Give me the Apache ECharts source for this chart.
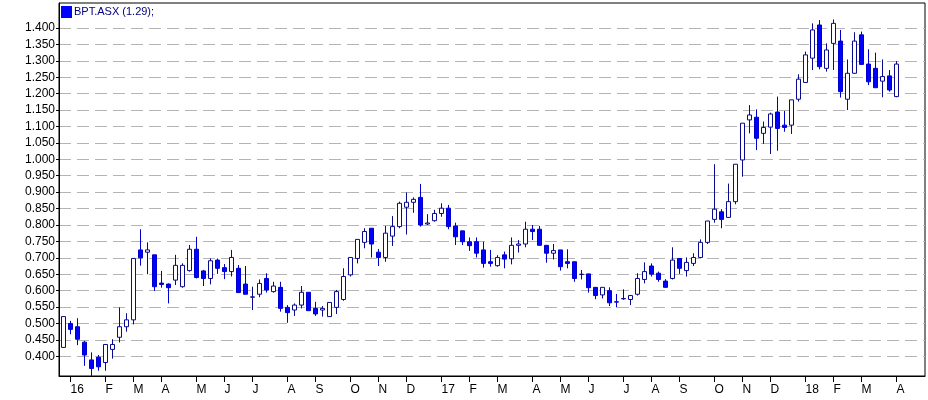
<!DOCTYPE html>
<html><head><meta charset="utf-8">
<script src="https://cdn.jsdelivr.net/npm/echarts@6/dist/echarts.min.js"></script>
<style>html,body{margin:0;padding:0;background:#fff}#c{width:928px;height:400px}</style>
</head><body><div id="c"></div>
<script>
const ticker = 'BPT.ASX';
// weekly candles, week 0 .. 119
const opens = [
 0.427,0.500,0.490,0.443,0.389,0.397,0.381,0.421,0.458,0.490,
 0.511,0.724,0.717,0.709,0.623,0.620,0.632,0.612,0.661,0.726,
 0.660,0.637,0.693,0.670,0.658,0.668,0.620,0.580,0.589,0.637,
 0.597,0.610,0.549,0.541,0.556,0.595,0.546,0.541,0.521,0.549,
 0.573,0.648,0.698,0.747,0.790,0.717,0.701,0.766,0.795,0.854,
 0.869,0.884,0.803,0.813,0.835,0.851,0.797,0.782,0.749,0.749,
 0.724,0.688,0.676,0.709,0.697,0.738,0.742,0.787,0.787,0.738,
 0.714,0.724,0.688,0.688,0.649,0.651,0.610,0.587,0.600,0.566,
 0.575,0.573,0.589,0.634,0.675,0.653,0.629,0.637,0.698,0.661,
 0.683,0.701,0.747,0.817,0.840,0.823,0.871,0.998,1.120,1.128,
 1.079,1.098,1.144,1.104,1.104,1.183,1.234,1.308,1.409,1.277,
 1.353,1.360,1.183,1.262,1.379,1.290,1.277,1.238,1.254,1.191];
const closes = [
 0.521,0.482,0.452,0.404,0.363,0.368,0.436,0.436,0.490,0.511,
 0.698,0.700,0.724,0.612,0.619,0.609,0.677,0.677,0.726,0.640,
 0.637,0.691,0.668,0.658,0.701,0.594,0.589,0.581,0.622,0.602,
 0.614,0.546,0.533,0.556,0.595,0.539,0.529,0.546,0.564,0.597,
 0.643,0.701,0.756,0.780,0.742,0.701,0.775,0.795,0.866,0.869,
 0.878,0.800,0.806,0.835,0.851,0.795,0.764,0.749,0.737,0.714,
 0.683,0.683,0.701,0.696,0.738,0.742,0.787,0.780,0.738,0.714,
 0.722,0.673,0.683,0.637,0.650,0.609,0.585,0.610,0.563,0.565,
 0.576,0.585,0.637,0.658,0.650,0.634,0.610,0.693,0.668,0.686,
 0.701,0.747,0.812,0.848,0.817,0.871,0.985,1.110,1.135,1.064,
 1.097,1.138,1.094,1.097,1.181,1.244,1.318,1.394,1.282,1.333,
 1.414,1.206,1.262,1.360,1.289,1.236,1.218,1.252,1.211,1.290];
const lows = [
 0.427,0.467,0.434,0.371,0.340,0.356,0.356,0.393,0.442,0.475,
 0.497,0.676,0.650,0.599,0.609,0.561,0.617,0.609,0.658,0.637,
 0.614,0.619,0.651,0.635,0.643,0.594,0.589,0.541,0.580,0.594,
 0.594,0.536,0.502,0.523,0.546,0.539,0.523,0.521,0.521,0.529,
 0.569,0.643,0.683,0.729,0.701,0.675,0.688,0.736,0.790,0.771,
 0.837,0.795,0.800,0.810,0.825,0.787,0.739,0.739,0.721,0.701,
 0.670,0.673,0.673,0.668,0.680,0.716,0.732,0.754,0.738,0.685,
 0.695,0.661,0.668,0.627,0.634,0.594,0.574,0.576,0.553,0.549,
 0.572,0.556,0.585,0.622,0.643,0.627,0.610,0.634,0.651,0.643,
 0.675,0.701,0.742,0.807,0.790,0.823,0.863,0.947,1.079,1.028,
 1.047,1.016,1.026,1.084,1.077,1.176,1.234,1.272,1.274,1.267,
 1.272,1.188,1.150,1.260,1.289,1.226,1.218,1.189,1.206,1.189];
const highs = [
 0.521,0.508,0.516,0.447,0.412,0.404,0.436,0.452,0.549,0.531,
 0.698,0.787,0.747,0.709,0.660,0.622,0.709,0.683,0.739,0.764,
 0.663,0.698,0.698,0.681,0.724,0.678,0.675,0.612,0.634,0.653,
 0.627,0.627,0.556,0.561,0.614,0.595,0.566,0.553,0.564,0.602,
 0.668,0.701,0.756,0.790,0.790,0.727,0.797,0.827,0.871,0.899,
 0.884,0.925,0.833,0.846,0.866,0.861,0.807,0.782,0.762,0.762,
 0.749,0.724,0.708,0.719,0.762,0.754,0.810,0.800,0.797,0.738,
 0.742,0.724,0.726,0.688,0.663,0.651,0.610,0.610,0.610,0.590,
 0.604,0.587,0.653,0.686,0.683,0.658,0.635,0.732,0.698,0.701,
 0.714,0.756,0.812,0.985,0.848,0.926,0.985,1.110,1.165,1.152,
 1.115,1.142,1.191,1.147,1.181,1.259,1.328,1.414,1.424,1.353,
 1.426,1.394,1.304,1.387,1.389,1.335,1.325,1.304,1.272,1.299];
const monthTickWeeks = [1,6,10,14,19,23,27,32,36,41,45,49,54,58,62,67,71,75,80,84,88,93,97,101,106,110,114,119];
const monthTickLabels = ['16','F','M','A','M','J','J','A','S','O','N','D','17','F','M','A','M','J','J','A','S','O','N','D','18','F','M','A'];
const priceTicks = [0.40,0.45,0.50,0.55,0.60,0.65,0.70,0.75,0.80,0.85,0.90,0.95,1.00,1.05,1.10,1.15,1.20,1.25,1.30,1.35,1.40];

const legendName = ticker + ' (' + closes[closes.length - 1].toFixed(2) + ');';
const candles = opens.map((o, i) => [i, o, closes[i], lows[i], highs[i]]);
const labelOf = {};
monthTickWeeks.forEach((w, i) => { labelOf[w] = monthTickLabels[i]; });

const font = "'Liberation Sans', Arial, sans-serif";
const chart = echarts.init(document.getElementById('c'), null, {renderer: 'canvas'});
chart.setOption({
  animation: false,
  backgroundColor: '#ffffff',
  legend: {
    data: [{name: legendName, icon: 'rect', itemStyle: {color: '#0000ff', borderWidth: 0}}],
    left: 61, top: 6, padding: 0, itemWidth: 11, itemHeight: 12, selectedMode: false,
    textStyle: {fontSize: 11, color: '#000080', fontFamily: font, padding: [0, 0, 0, -3]}
  },
  grid: {left: 59, right: 3, top: 3, bottom: 24, show: true, borderColor: '#000', borderWidth: 1, backgroundColor: 'transparent'},
  xAxis: {
    type: 'value', min: -0.65, max: 123.06,
    axisLine: {show: true, onZero: false, lineStyle: {color: '#000', width: 1}},
    axisTick: {show: true, customValues: monthTickWeeks, length: 6, lineStyle: {color: '#000'}},
    axisLabel: {customValues: monthTickWeeks, formatter: v => labelOf[v] || '', align: 'left',
      margin: 8, fontSize: 12, color: '#000', fontFamily: "'Liberation Sans Narrow', 'Arial Narrow', " + font},
    splitLine: {show: false}
  },
  yAxis: {
    type: 'value', min: 0.34, max: 1.476,
    axisLine: {show: true, onZero: false, lineStyle: {color: '#000', width: 1}},
    axisTick: {show: true, customValues: priceTicks, length: 3, lineStyle: {color: '#000'}},
    axisLabel: {customValues: priceTicks, formatter: v => v.toFixed(3), margin: 4, fontSize: 12, color: '#000', fontFamily: font},
    splitLine: {show: true, lineStyle: {type: [12, 6], color: '#b4b4b4', width: 1}}
  },
  series: [{
    type: 'candlestick', name: legendName,
    data: candles,
    dimensions: ['week', 'open', 'close', 'lowest', 'highest'],
    encode: {x: 0, y: [1, 2, 3, 4]},
    barWidth: 5,
    itemStyle: {color: '#ffffff', color0: '#0000ff', borderColor: '#0a0a8c', borderColor0: '#0000cc', borderWidth: 1}
  }]
});
</script>
</body></html>
